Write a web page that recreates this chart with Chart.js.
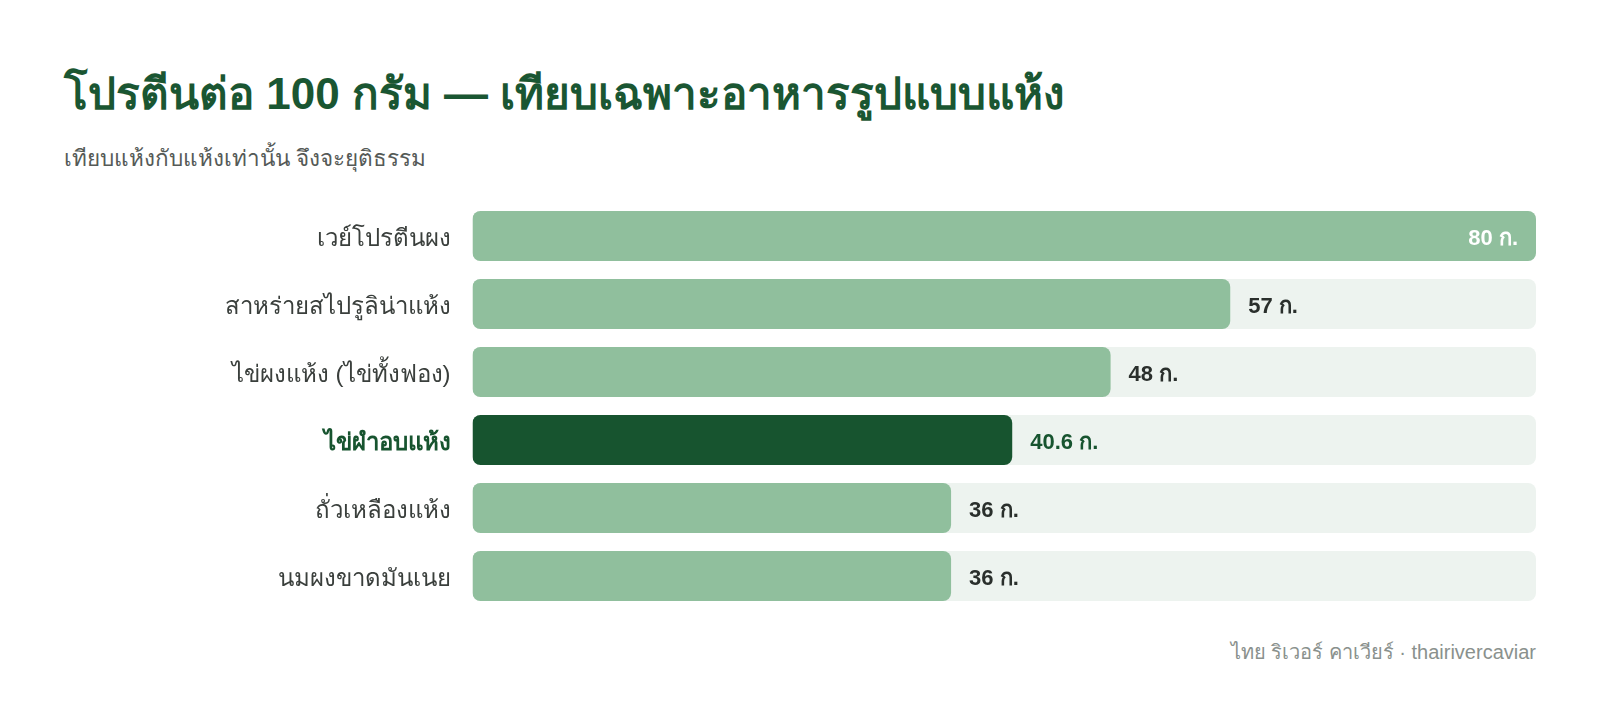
<!DOCTYPE html>
<html lang="th">
<head>
  <meta charset="UTF-8" />
  <title>โปรตีนต่อ 100 กรัม</title>
  <script src="https://cdn.jsdelivr.net/npm/chart.js"></script>
  <style>
    body {
      margin: 0;
      background: #ffffff;
      font-family: 'Liberation Sans', 'Noto Sans', sans-serif;
      width: 1600px;
      height: 727px;
      position: relative;
      overflow: hidden;
    }
    h1 {
      position: absolute;
      left: 64px;
      top: 68px;
      margin: 0;
      font-size: 44px;
      font-weight: bold;
      color: #1a5632;
      line-height: 1.2;
    }
    p.subtitle {
      position: absolute;
      left: 64px;
      top: 140px;
      margin: 0;
      font-size: 22.5px;
      color: #555a57;
    }
    .chart-wrap {
      position: absolute;
      left: 64px;
      top: 202px;
      width: 1472px;
      height: 408px;
    }
    .footer {
      position: absolute;
      right: 64px;
      top: 636px;
      font-size: 20px;
      color: #8a918d;
    }
  </style>
</head>
<body>
  <h1>โปรตีนต่อ 100 กรัม — เทียบเฉพาะอาหารรูปแบบแห้ง</h1>
  <p class="subtitle">เทียบแห้งกับแห้งเท่านั้น จึงจะยุติธรรม</p>

  <div class="chart-wrap">
    <canvas id="proteinChart"></canvas>
  </div>

  <div class="footer">ไทย ริเวอร์ คาเวียร์ · thairivercaviar</div>

  <script>
    const foods = ['เวย์โปรตีนผง', 'สาหร่ายสไปรูลิน่าแห้ง', 'ไข่ผงแห้ง (ไข่ทั้งฟอง)', 'ไข่ผำอบแห้ง', 'ถั่วเหลืองแห้ง', 'นมผงขาดมันเนย'];
    const protein = [80, 57, 48, 40.6, 36, 36];
    const highlightIndex = 3;
    const maxValue = 80;
    const unit = ' ก.';

    const barGreen = '#90bf9d';
    const darkGreen = '#17542f';
    const trackColor = '#edf3ef';

    // value labels drawn at bar ends
    const valueLabels = {
      id: 'valueLabels',
      afterDatasetsDraw(chart) {
        const ctx = chart.ctx;
        const meta = chart.getDatasetMeta(1);
        ctx.save();
        ctx.font = 'bold 22px "Liberation Sans", sans-serif';
        ctx.textBaseline = 'middle';
        meta.data.forEach((bar, i) => {
          const txt = protein[i] + unit;
          if (protein[i] >= maxValue) {
            ctx.fillStyle = '#ffffff';
            ctx.textAlign = 'right';
            ctx.fillText(txt, bar.x - 18, bar.y + 3);
          } else {
            ctx.fillStyle = i === highlightIndex ? darkGreen : '#2a2f2c';
            ctx.textAlign = 'left';
            ctx.fillText(txt, bar.x + 18, bar.y + 3);
          }
        });
        ctx.restore();
      }
    };

    new Chart(document.getElementById('proteinChart'), {
      type: 'bar',
      data: {
        labels: foods,
        datasets: [
          {
            data: foods.map(() => maxValue),
            backgroundColor: trackColor,
            borderRadius: 8,
            borderSkipped: false,
            order: 2
          },
          {
            data: protein,
            backgroundColor: protein.map((_, i) => i === highlightIndex ? darkGreen : barGreen),
            borderRadius: 8,
            borderSkipped: false,
            order: 1
          }
        ]
      },
      options: {
        indexAxis: 'y',
        responsive: true,
        maintainAspectRatio: false,
        animation: false,
        grouped: false,
        categoryPercentage: 1,
        barPercentage: 0.735,
        layout: { padding: 0 },
        plugins: {
          legend: { display: false },
          tooltip: { enabled: false }
        },
        scales: {
          x: {
            display: false,
            min: 0,
            max: maxValue
          },
          y: {
            grid: { display: false, drawTicks: false },
            border: { display: false },
            afterFit(scale) {
              scale.width = 408.5;
              scale.paddingTop = 0;
              scale.paddingBottom = 0;
            },
            ticks: {
              padding: 22,
              labelOffset: 3,
              font: (c) => ({
                size: 24,
                family: '"Liberation Sans", sans-serif',
                weight: c.index === highlightIndex ? 'bold' : 'normal'
              }),
              color: (c) => c.index === highlightIndex ? darkGreen : '#3a3f3c'
            }
          }
        }
      },
      plugins: [valueLabels]
    });
  </script>
</body>
</html>
